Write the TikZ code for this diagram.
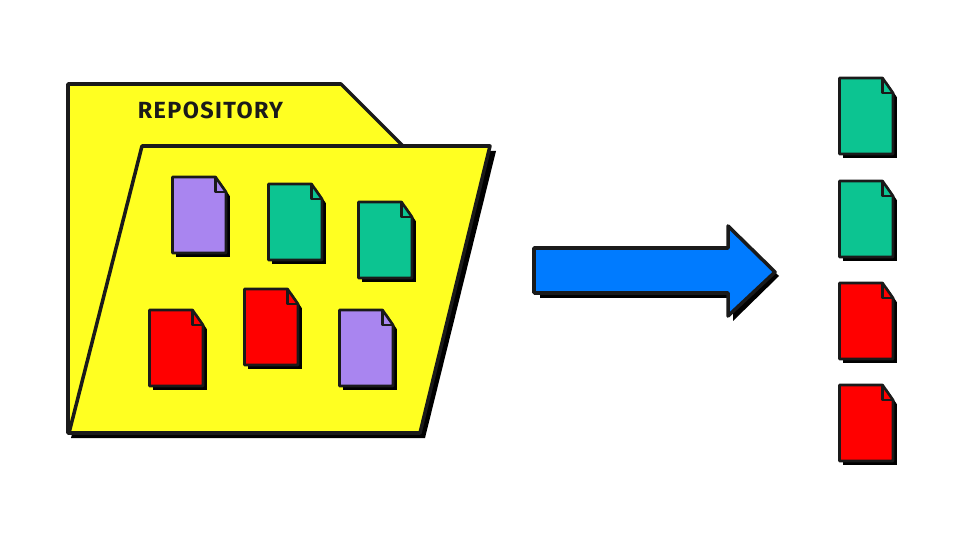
\documentclass[tikz,border=0pt]{standalone}
\usepackage{xcolor}
\usepackage{fontspec}
\setmainfont{Fira Sans}
\usetikzlibrary{positioning}
\definecolor{folderyellow}{RGB}{255, 255, 33}
\definecolor{docgreen}{RGB}{12, 196, 145}
\definecolor{docpurple}{RGB}{169, 133, 240}
\definecolor{docred}{RGB}{255, 0, 0}
\definecolor{arrowblue}{RGB}{0, 123, 255}
\definecolor{inkgray}{RGB}{26, 26, 26}

\begin{document}
\begin{tikzpicture}[
    x=0.02cm, y=-0.02cm,
    outline/.style={draw=inkgray, line width=2pt, line join=round},
    docline/.style={draw=inkgray, line width=1.5pt, line join=round},
    doc/.pic={
        \path[draw=black, line width=0.5pt, fill=black] (4.5,4.5) -- (47.5,4.5) -- (57.5,19.5) -- (57.5,79.5) -- (4.5,79.5) -- cycle;
        \path[docline, fill=#1] (0.5,0) -- (43.5,0) -- (54,15) -- (54,76) -- (0.5,76) -- cycle;
        \draw[docline] (43.5,0) -- (43.5,15) -- (54,15);
    }
]
    % Page size
    \useasboundingbox (0, 0) rectangle (960, 540);

    % Back of the folder
    \path[outline, fill=folderyellow] (68, 84) -- (341, 84) -- (403, 146) -- (420, 433) -- (68, 433) -- cycle;
    \node[font=\bfseries, text=inkgray, scale=1.33] (repolabel) at (210.5, 110) {\addfontfeature{LetterSpace=6}REPOSITORY};

    % Front of the folder
    \fill[black] (147, 151) -- (496, 151) -- (425, 438) -- (71, 438) -- cycle;
    \path[outline, fill=folderyellow] (142, 146) -- (490, 146) -- (420, 433) -- (69, 433) -- cycle;

    % Files in the folder
    \pic at (172, 177) {doc=docpurple};
    \pic at (268, 184) {doc=docgreen};
    \pic at (358, 202) {doc=docgreen};
    \pic at (149, 310) {doc=docred};
    \pic at (244, 289) {doc=docred};
    \pic at (339, 310) {doc=docpurple};

    % Arrow
    \fill[black] (540, 253) -- (733, 253) -- (733, 231) -- (779, 276) -- (733, 321) -- (733, 298) -- (540, 298) -- cycle;
    \path[outline, fill=arrowblue] (534, 248) -- (728, 248) -- (728, 226) -- (775, 272) -- (728, 316) -- (728, 293) -- (534, 293) -- cycle;

    % Selected files
    \pic at (839, 78) {doc=docgreen};
    \pic at (839, 181) {doc=docgreen};
    \pic at (839, 283) {doc=docred};
    \pic at (839, 385) {doc=docred};
\end{tikzpicture}
\end{document}
